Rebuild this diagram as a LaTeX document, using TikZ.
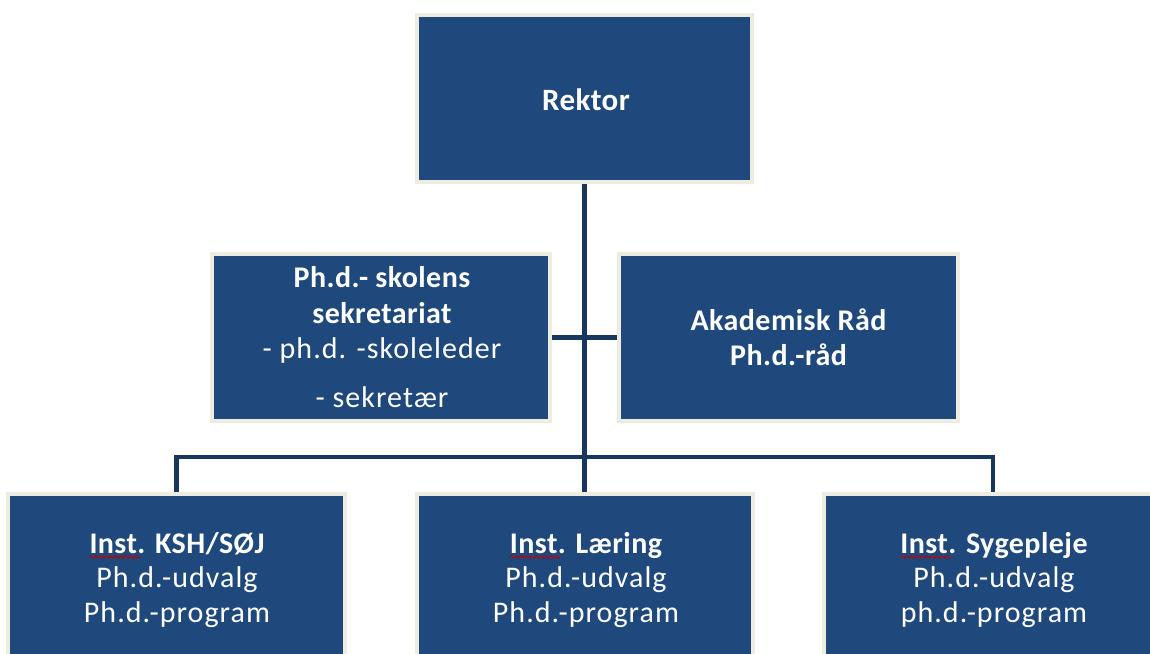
\documentclass[tikz,border=0pt]{standalone}
\usepackage{fontspec}
\setmainfont{Carlito}[BoldFeatures={LetterSpace=1.5}]
\newfontfamily\regfont{Carlito}[LetterSpace=3.5]
\usetikzlibrary{backgrounds,decorations.pathmorphing}
\definecolor{navy}{HTML}{1F497D}
\definecolor{lineblue}{HTML}{17375E}
\definecolor{cream}{HTML}{EEECE1}
\definecolor{squigred}{HTML}{C00000}
\tikzset{
  orgbox/.style={draw=cream, line width=4pt, fill=navy, inner sep=0pt, outer sep=0pt},
  conn/.style={draw=lineblue, line width=4.5pt},
  txt/.style={text=white, inner sep=0pt, anchor=base, font=\fontsize{30}{35}\selectfont\regfont},
  btxt/.style={text=white, inner sep=0pt, anchor=base, font=\fontsize{30}{35}\selectfont\bfseries},
  squig/.style={draw=squigred, line width=0.9pt, decorate, decoration={snake, amplitude=1.3pt, segment length=5pt}},
}
\begin{document}
\begin{tikzpicture}[x=1pt,y=-1pt]
\useasboundingbox (0,0) rectangle (1150,653);
\clip (0,0) rectangle (1150,653);
% boxes
\node[orgbox, minimum width=335pt, minimum height=167pt] (rektor) at (584.5,98.5) {};
\node[orgbox, minimum width=338pt, minimum height=167pt] (sek) at (381,337.5) {};
\node[orgbox, minimum width=339pt, minimum height=167pt] (akad) at (788.5,337.5) {};
\node[orgbox, minimum width=337pt, minimum height=200pt] (inst1) at (176.5,594) {};
\node[orgbox, minimum width=336pt, minimum height=200pt] (inst2) at (584.5,594) {};
\node[orgbox, minimum width=338pt, minimum height=200pt] (inst3) at (993,594) {};
\coordinate (bar) at (584.5,457);
% connectors
\begin{scope}[on background layer]
\draw[conn] (rektor.south) -- (inst2.north);
\draw[conn] (sek.east) -- (akad.west);
\draw[conn] (inst1.north) |- (bar) -| (inst3.north);
\end{scope}
% texts
\node[btxt, font=\fontsize{31}{35}\selectfont\bfseries] (t0) at (586,110) {Rektor};
\node[btxt] (s1) at (382,287) {Ph.d.- skolens};
\node[btxt] (s2) at (382,323) {sekretariat};
\node[txt] (s3) at (382,358) {- ph.d. -skoleleder};
\node[txt] (s4) at (382,407) {- sekret\ae r};
\node[btxt] (a1) at (788.5,330) {Akademisk Råd};
\node[btxt] (a2) at (788.5,365) {Ph.d.-råd};
\node[btxt] (i11) at (177,553) {Inst. KSH/SØJ};
\node[txt] (i12) at (177,587) {Ph.d.-udvalg};
\node[txt] (i13) at (177,622) {Ph.d.-program};
\node[btxt] (i21) at (586,553) {Inst. Læring};
\node[txt] (i22) at (586,587) {Ph.d.-udvalg};
\node[txt] (i23) at (586,622) {Ph.d.-program};
\node[btxt] (i31) at (994,553) {Inst. Sygepleje};
\node[txt] (i32) at (994,587) {Ph.d.-udvalg};
\node[txt] (i33) at (994,622) {ph.d.-program};
% spell-check marks
\draw[squig] ([yshift=-4pt]i11.base west) -- ++(51,0);
\draw[squig] ([yshift=-4pt]i21.base west) -- ++(51,0);
\draw[squig] ([yshift=-4pt]i31.base west) -- ++(51,0);
\end{tikzpicture}
\end{document}
